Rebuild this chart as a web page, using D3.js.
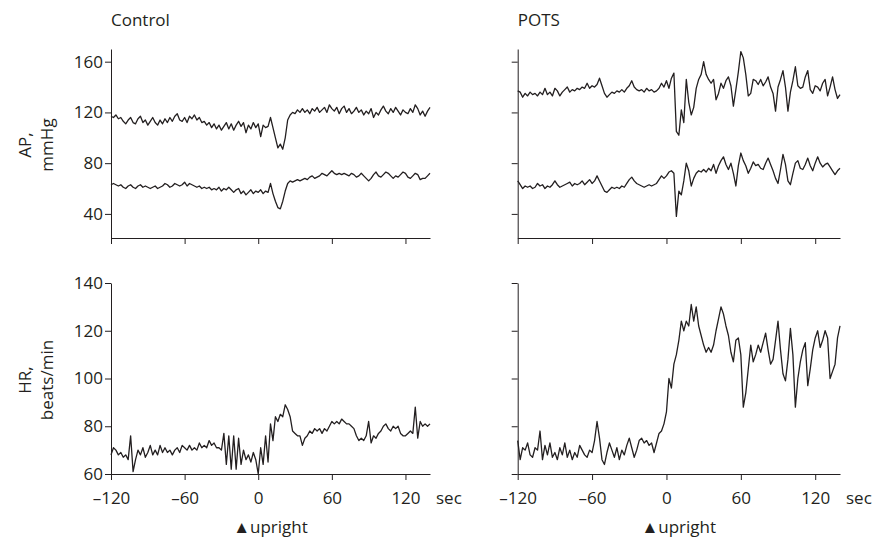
<!DOCTYPE html>
<html lang="en">
<head>
  <meta charset="UTF-8">
  <title>Control vs POTS: AP and HR on tilt</title>
  <style>
    body { margin: 0; background: #fff; }
    svg text { font-family: "Open Sans", sans-serif; font-size: 17px; fill: #231f20; }
    .axis path, .axis line { stroke: #231f20; stroke-width: 1; fill: none; }
    .trace { fill: none; stroke: #231f20; stroke-width: 1.3; stroke-linejoin: round; }
  </style>
  <script src="https://cdn.jsdelivr.net/npm/d3@7"></script>
</head>
<body>
<script>
  // sample times, sec (0 = upright)
  var secs = [
    -120,-118,-116,-114,-112,-110,-108,-106,-104,-102,
    -100,-98,-96,-94,-92,-90,-88,-86,-84,-82,
    -80,-78,-76,-74,-72,-70,-68,-66,-64,-62,
    -60,-58,-56,-54,-52,-50,-48,-46,-44,-42,
    -40,-38,-36,-34,-32,-30,-28,-26,-24,-22,
    -20,-18,-16,-14,-12,-10,-8,-6,-4,-2,
    0,2,4,6,8,10,12,14,16,18,
    20,22,24,26,28,30,32,34,36,38,
    40,42,44,46,48,50,52,54,56,58,
    60,62,64,66,68,70,72,74,76,78,
    80,82,84,86,88,90,92,94,96,98,
    100,102,104,106,108,110,112,114,116,118,
    120,122,124,126,128,130,132,134,136,138,
    140];

  // Control: systolic / diastolic AP (mmHg), HR (beats/min)
  var controlSys = [
    117,116,118,115,116,113,111,114,116,112,
    111,115,117,112,114,110,113,116,112,110,
    114,111,115,112,116,113,117,119,114,113,
    116,112,117,115,118,114,116,112,113,110,
    112,108,111,107,110,106,109,112,107,111,
    106,110,113,109,112,104,110,107,112,108,
    111,101,110,108,109,116,108,100,92,95,
    91,100,114,118,120,119,122,120,123,120,
    122,119,123,121,124,120,122,124,120,126,
    123,121,124,119,123,125,120,123,119,121,
    124,120,122,118,121,119,123,116,120,118,
    122,125,121,119,123,120,124,121,118,122,
    120,119,123,120,126,123,118,121,117,121,
    124];
  var controlDia = [
    63,64,63,62,63,61,60,62,63,61,
    60,62,63,61,62,61,60,61,62,60,
    61,62,64,63,61,62,64,63,62,63,
    65,62,64,63,62,61,62,60,61,60,
    61,59,60,59,61,58,60,59,61,59,
    57,59,60,56,58,55,57,59,56,58,
    57,59,56,58,57,64,56,50,45,44,
    50,58,64,66,65,66,67,66,67,68,
    67,69,70,68,69,70,72,71,70,72,
    74,72,71,72,71,72,71,70,72,71,
    69,70,72,70,68,66,68,71,73,70,
    69,71,73,72,70,68,70,69,71,73,
    72,69,68,70,72,71,67,68,68,70,
    72];
  var controlHR = [
    68,71,70,68,69,67,68,66,76,61,
    66,70,68,71,67,69,72,68,70,68,
    72,69,71,69,70,68,70,71,69,72,
    71,70,72,70,71,70,73,71,72,71,
    74,72,73,71,71,70,77,64,76,62,
    76,62,75,64,70,66,68,65,69,66,
    60,71,64,76,65,81,74,84,82,85,
    84,89,87,84,78,77,76,76,72,75,
    76,78,77,79,78,79,77,79,78,80,
    82,81,82,81,83,82,81,81,80,79,
    76,74,75,74,76,82,73,76,75,77,
    78,80,81,79,78,80,79,80,77,76,
    76,77,78,77,88,75,82,80,81,80,
    81];

  // POTS: systolic / diastolic AP (mmHg), HR (beats/min)
  var potsSys = [
    137,136,132,135,133,136,134,135,133,136,
    134,139,134,136,133,139,137,133,136,138,
    140,136,138,137,139,138,140,139,143,139,
    141,140,142,147,141,135,132,134,136,135,
    137,136,138,136,139,141,145,140,138,137,
    138,136,139,137,138,136,137,139,143,140,
    145,139,147,151,105,102,122,112,146,128,
    118,124,139,146,150,160,150,146,143,146,
    130,135,143,139,145,148,141,125,138,152,
    168,163,150,133,135,146,145,142,146,141,
    144,148,140,135,121,140,146,153,140,121,
    136,145,156,141,139,140,148,153,138,135,
    141,140,137,143,146,133,140,148,138,131,
    134];
  var potsDia = [
    66,63,60,62,61,62,60,61,64,62,
    63,60,62,61,63,66,63,61,62,63,
    64,65,62,64,63,64,66,63,65,67,
    64,66,70,66,62,58,57,59,61,60,
    61,60,62,61,64,67,69,66,64,63,
    62,61,62,63,62,63,64,67,70,68,
    70,73,74,72,38,58,55,66,80,74,
    62,68,72,74,73,75,73,76,74,79,
    72,78,82,85,79,75,80,72,62,78,
    88,82,78,72,76,81,78,79,76,75,
    80,84,79,74,68,64,75,87,79,66,
    63,72,80,82,76,75,79,84,78,74,
    80,85,80,77,79,80,77,74,71,74,
    76];
  var potsHR = [
    74,66,71,70,73,68,67,71,70,78,
    66,72,68,73,67,69,66,71,68,73,
    67,70,66,69,67,72,70,68,67,70,
    69,74,82,75,66,64,69,73,70,67,
    71,66,70,68,72,75,71,67,70,74,
    75,73,74,72,73,69,73,77,78,81,
    86,100,96,106,110,116,124,120,124,122,
    131,124,130,122,118,114,111,113,111,114,
    120,125,130,127,122,118,111,107,116,117,
    110,88,94,104,114,107,110,114,111,115,
    119,112,106,108,116,124,112,102,99,108,
    121,110,88,100,107,112,115,97,104,112,
    117,120,113,116,120,117,100,103,106,117,
    122];

  var xTicks = [-120, -60, 0, 60, 120];
  var apTicks = [40, 80, 120, 160];
  var hrTicks = [60, 80, 100, 120, 140];
  var groupNames = ["Control", "POTS"];

  var width = 885, height = 541;
  var svg = d3.select("body").append("svg")
      .attr("width", width)
      .attr("height", height);

  // panel columns and rows
  var cols = [{x0: 111, x1: 430}, {x0: 517.7, x1: 840}];
  var apRow = {top: 49, bottom: 238, domain: [21, 170]};
  var hrRow = {top: 283, bottom: 474, domain: [60, 140]};

  function fmtX(d) { return d < 0 ? "\u2013" + Math.abs(d) : d; }

  function drawPanel(col, row, ticks, series, showY, showX) {
    var x = d3.scaleLinear().domain([-120, 140]).range([col.x0, col.x1]);
    var y = d3.scaleLinear().domain(row.domain).range([row.bottom, row.top]);

    var yAxis = d3.axisLeft(y).tickValues(ticks).tickSize(6).tickSizeOuter(0).tickPadding(2)
        .tickFormat(showY ? d3.format("d") : "");
    svg.append("g")
        .attr("class", "axis")
        .attr("transform", "translate(" + x(-120) + ",0)")
        .call(yAxis)
        .attr("font-family", null).attr("font-size", null);

    var xAxis = d3.axisBottom(x).tickValues(xTicks).tickSize(6).tickSizeOuter(0).tickPadding(12)
        .tickFormat(showX ? fmtX : "");
    svg.append("g")
        .attr("class", "axis")
        .attr("transform", "translate(0," + row.bottom + ")")
        .call(xAxis)
        .attr("font-family", null).attr("font-size", null);

    var line = d3.line()
        .x(function(d, i) { return x(secs[i]); })
        .y(function(d) { return y(d); });

    series.forEach(function(s) {
      svg.append("path")
          .datum(s)
          .attr("class", "trace")
          .attr("d", line);
    });

    if (showX) {
      svg.append("text")
          .attr("x", x(140) + 6)
          .attr("y", row.bottom + 30)
          .text("sec");
      svg.append("text")
          .attr("x", x(0) - 25)
          .attr("y", 533)
          .text("\u25B2upright");
    }
    return x;
  }

  drawPanel(cols[0], apRow, apTicks, [controlSys, controlDia], true, false);
  drawPanel(cols[1], apRow, apTicks, [potsSys, potsDia], false, false);
  drawPanel(cols[0], hrRow, hrTicks, [controlHR], true, true);
  drawPanel(cols[1], hrRow, hrTicks, [potsHR], false, true);

  // group titles
  groupNames.forEach(function(name, i) {
    svg.append("text")
        .attr("x", cols[i].x0)
        .attr("y", 26)
        .text(name);
  });

  // y-axis titles, two lines rotated
  function yTitle(lines, cy) {
    var t = svg.append("text")
        .attr("transform", "translate(0," + cy + ") rotate(-90)")
        .attr("text-anchor", "middle");
    t.append("tspan").attr("x", 0).attr("y", 31).text(lines[0]);
    t.append("tspan").attr("x", 0).attr("y", 53).text(lines[1]);
  }
  yTitle(["AP,", "mmHg"], 145);
  yTitle(["HR,", "beats/min"], 380);
</script>
</body>
</html>
